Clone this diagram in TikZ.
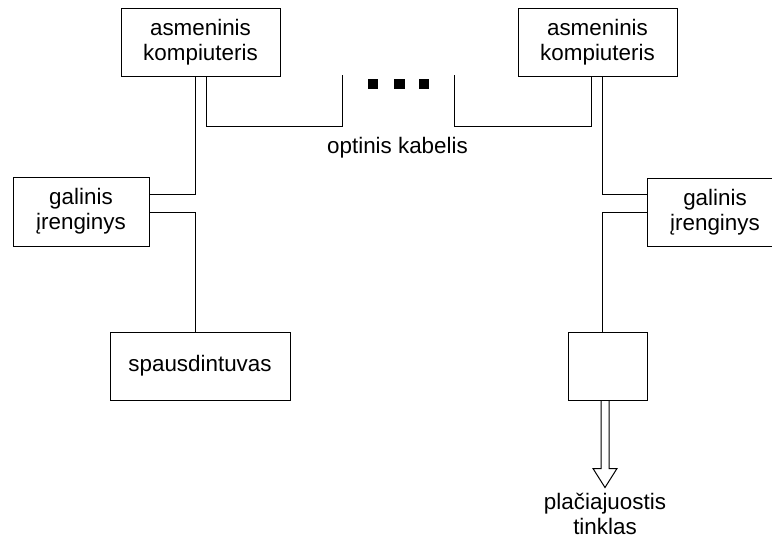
\documentclass[tikz,border=0pt]{standalone}
\usepackage{fontspec}
\setmainfont{Liberation Sans}
\usetikzlibrary{calc}

\begin{document}
\begin{tikzpicture}[x=1pt,y=-1pt,
  every node/.style={font=\fontsize{22.4}{25}\selectfont},
  unit/.style={draw,line width=1pt,inner sep=0pt,align=center},
  wire/.style={line width=1pt},
  dot/.style={fill=black,inner sep=0pt,minimum size=10.5pt}]
  \useasboundingbox (0,0) rectangle (772,542);

  % devices
  \node[unit,minimum width=159pt,minimum height=68pt] (pcL) at (200.5,42) {asmeninis\\kompiuteris};
  \node[unit,minimum width=159pt,minimum height=68pt] (pcR) at (597.5,42) {asmeninis\\kompiuteris};
  \node[unit,minimum width=136pt,minimum height=69pt] (galL) at (81,211.5) {galinis\\įrenginys};
  \node[unit,minimum width=136pt,minimum height=68pt] (galR) at (715,212) {galinis\\įrenginys};
  \node[unit,minimum width=180pt,minimum height=68pt] (prn) at (200,366) {spausdintuvas};
  \node[unit,minimum width=79pt,minimum height=68pt] (mod) at (607.5,366) {};

  % vertical tap positions
  \coordinate (tapL) at (195,0);
  \coordinate (cabL) at (206,0);
  \coordinate (cabR) at (591,0);
  \coordinate (tapR) at (602,0);
  \coordinate (cabY) at (0,126);
  \coordinate (gapL) at (342,75);
  \coordinate (gapR) at (454,75);

  % optical cable with a gap
  \draw[wire] (pcL.south -| cabL) |- (cabY -| gapL) -- (gapL);
  \draw[wire] (pcR.south -| cabR) |- (cabY -| gapR) -- (gapR);
  \node[dot] (d1) at (373,84) {};
  \node[dot] (d2) at (399.5,84) {};
  \node[dot] (d3) at (424,84) {};
  \node (cable) at (397.5,148) {optinis kabelis};

  % left branch
  \draw[wire] (pcL.south -| tapL) |- ([yshift=17.5pt]galL.east);
  \draw[wire] ([yshift=-0.5pt]galL.east) -| (prn.north -| tapL);

  % right branch
  \draw[wire] (pcR.south -| tapR) |- ([yshift=18pt]galR.west);
  \draw[wire] (galR.west) -| (mod.north -| tapR);

  % hollow arrow to the broadband network
  \coordinate (ar) at ($(mod.south)+(-2.5,0)$);
  \draw[wire,line join=miter]
    ($(ar)+(-4,0)$) -- ++(0,68) -- ++(-8,0) -- ($(ar)+(0,87)$) coordinate (tip)
    -- ($(ar)+(12,68)$) -- ++(-8,0) -- ($(ar)+(4,0)$);
  \node[align=center,anchor=north,inner sep=0pt] (net) at ($(tip)+(0,5)$) {plačiajuostis\\tinklas};
\end{tikzpicture}
\end{document}
